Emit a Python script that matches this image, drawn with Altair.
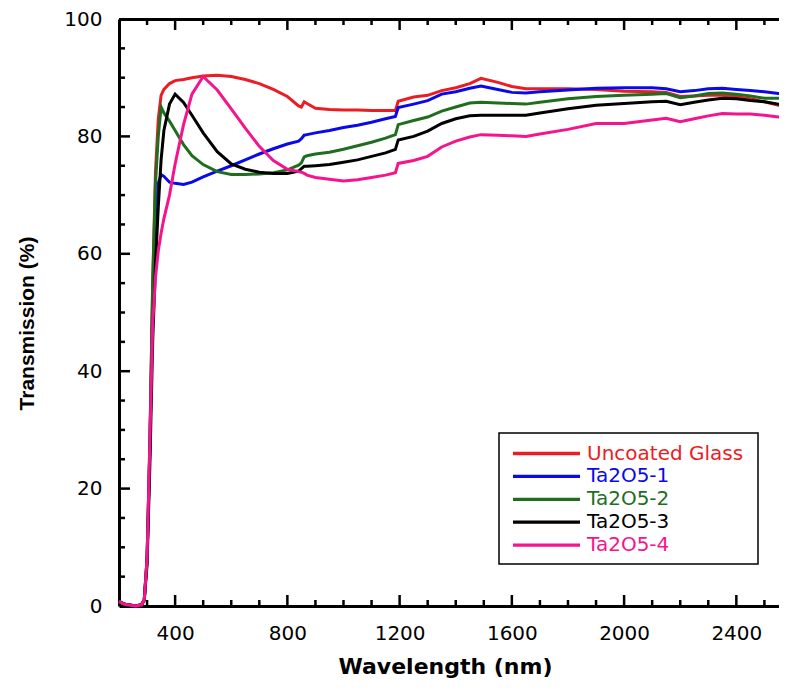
import altair as alt
import pandas as pd

# ---------------- data ----------------
wavelengths = [200, 220, 260, 280, 290, 300, 310, 320, 330, 340, 350, 360, 380, 400, 430, 460,
               500, 550, 600, 650, 700, 750, 800, 840, 850, 860, 870, 900, 950, 1000, 1050,
               1100, 1150, 1185, 1195, 1250, 1300, 1350, 1400, 1450, 1490, 1550, 1600, 1650,
               1700, 1800, 1900, 2000, 2100, 2150, 2200, 2250, 2300, 2350, 2400, 2450, 2500,
               2550, 2600]

uncoated = [0.8, 0.3, 0.0, 0.2, 1, 8, 27, 55, 74, 83, 87, 88, 89, 89.5, 89.7, 90,
            90.3, 90.4, 90.2, 89.7, 89, 88, 86.8, 85.2, 85.0, 85.9, 85.6, 84.8, 84.6, 84.5, 84.5,
            84.4, 84.4, 84.4, 86.0, 86.7, 87.0, 87.8, 88.3, 89.0, 89.9, 89.2, 88.5, 88.1,
            88.1, 88.1, 88.0, 87.7, 87.6, 87.5, 86.8, 86.9, 87.0, 87.0, 86.8, 86.4, 85.9,
            85.3, 85.0]

ta2o5_1 = [0.8, 0.3, 0.0, 0.2, 1, 8, 27, 52, 65, 72, 73.5, 73.2, 72.2, 72, 71.8, 72.2,
           73.1, 74.1, 75, 76, 77, 77.9, 78.7, 79.2, 79.6, 80.2, 80.3, 80.6, 81.0, 81.5, 81.9,
           82.4, 83.0, 83.4, 84.9, 85.5, 86.1, 87.2, 87.6, 88.2, 88.6, 88.0, 87.5, 87.4,
           87.6, 87.9, 88.2, 88.3, 88.3, 88.1, 87.6, 87.8, 88.1, 88.2, 88.0, 87.8, 87.6,
           87.3, 87.2]

ta2o5_2 = [0.8, 0.3, 0.0, 0.2, 1, 8, 28, 55, 72, 80, 85, 84, 82.6, 81, 78.6, 76.7,
           75.2, 74.0, 73.5, 73.5, 73.6, 73.8, 74.3, 75.1, 75.5, 76.5, 76.7, 77.0, 77.3, 77.8, 78.4,
           79.0, 79.7, 80.3, 82.0, 82.7, 83.3, 84.3, 85.0, 85.7, 85.8, 85.7, 85.6, 85.5,
           85.8, 86.4, 86.8, 87.0, 87.2, 87.3, 86.6, 86.9, 87.3, 87.4, 87.2, 86.9, 86.5,
           86.5, 86.3]

ta2o5_3 = [0.8, 0.3, 0.0, 0.2, 1, 7, 24, 45, 58, 68, 76, 81, 85.5, 87.2, 85.8, 83.6,
           80.6, 77.4, 75.3, 74.4, 73.9, 73.7, 73.7, 74.1, 74.5, 74.9, 74.9, 75.0, 75.2, 75.6, 76.0,
           76.6, 77.2, 77.8, 79.4, 80.0, 80.9, 82.2, 83.0, 83.5, 83.6, 83.6, 83.6, 83.6,
           84.0, 84.7, 85.3, 85.6, 85.9, 86.0, 85.4, 85.8, 86.2, 86.5, 86.4, 86.1, 85.9,
           85.5, 85.2]

ta2o5_4 = [0.8, 0.3, 0.0, 0.2, 1, 8, 28, 48, 56, 60.5, 63.5, 66, 70, 75.3, 82, 87.2,
           90.2, 87.9, 84.7, 81.4, 78.3, 75.9, 74.4, 74.0, 73.9, 73.7, 73.4, 73.0, 72.7, 72.4, 72.6,
           73.0, 73.4, 73.8, 75.4, 75.9, 76.6, 78.2, 79.2, 79.9, 80.3, 80.2, 80.1, 80.0,
           80.4, 81.2, 82.2, 82.2, 82.8, 83.1, 82.5, 83.0, 83.5, 83.9, 83.8, 83.8, 83.6,
           83.3, 83.0]

series_names = ["Uncoated Glass", "Ta2O5-1", "Ta2O5-2", "Ta2O5-3", "Ta2O5-4"]
series_values = [uncoated, ta2o5_1, ta2o5_2, ta2o5_3, ta2o5_4]
series_colors = ["#ec1c24", "#0a0ae8", "#1f6e1f", "#000000", "#f5148c"]

x_label_values = [400, 800, 1200, 1600, 2000, 2400]
x_minor_values = [300, 500, 600, 700, 900, 1000, 1100, 1300, 1400, 1500, 1700, 1800, 1900,
                  2100, 2200, 2300, 2500]
y_label_values = [0, 20, 40, 60, 80, 100]
y_major_ticks = [20, 40, 60, 80]
y_minor_ticks = [5, 10, 15, 25, 30, 35, 45, 50, 55, 65, 70, 75, 85, 90, 95]

rows = []
for name, vals in zip(series_names, series_values):
    for w, v in zip(wavelengths, vals):
        rows.append({"wavelength": w, "T": v, "series": name})
df = pd.DataFrame(rows)

# ---------------- layout ----------------
W = 660
H = 587
XMIN = 200
XMAX = 2552
MAJ = 11
MIN = 6
TW = 2.5

x_scale = alt.Scale(domain=[XMIN, XMAX], nice=False, zero=False)
y_scale = alt.Scale(domain=[0, 100], nice=False, zero=False)

x_axis = alt.Axis(orient="bottom", values=x_label_values, format="d",
                  title="Wavelength (nm)",
                  ticks=False, grid=False, domainWidth=3, domainColor="#000000",
                  labelFont="DejaVu Sans", labelFontSize=20, labelColor="#000000",
                  labelPadding=17, titleFont="DejaVu Sans", titleFontSize=22,
                  titleFontWeight="bold", titleColor="#000000", titleX=326, titleY=67,
                  titleBaseline="alphabetic", titleAlign="center")
y_axis = alt.Axis(orient="left", values=y_label_values, format="d",
                  title="Transmission (%)",
                  ticks=False, grid=False, domainWidth=3, domainColor="#000000",
                  labelFont="DejaVu Sans", labelFontSize=20, labelColor="#000000",
                  labelPadding=17, titleFont="Liberation Sans", titleFontSize=21,
                  titleFontWeight="bold", titleColor="#000000", titleAngle=270,
                  titleX=-92, titleY=304, titleAlign="center", titleBaseline="middle")

main = alt.Chart(df).mark_line(strokeWidth=3).encode(
    x=alt.X("wavelength:Q", scale=x_scale, axis=x_axis, title="Wavelength (nm)"),
    y=alt.Y("T:Q", scale=y_scale, axis=y_axis, title="Transmission (%)"),
    color=alt.Color("series:N", sort=series_names,
                    scale=alt.Scale(domain=series_names, range=series_colors),
                    legend=None),
)

layers = [main]

# ---------------- legend box (drawn as marks) ----------------
LX0, LX1, LY0, LY1 = 380, 639, 414, 545
ROW0, ROWSTEP = 434.5, 22.9
SYM0, SYM1, TXT = 394, 461, 468

layers.append(
    alt.Chart(pd.DataFrame({"series": ["legend"]})).mark_rect(
        fill="white", stroke="#000000", strokeWidth=1.5
    ).encode(x=alt.value(LX0), x2=alt.value(LX1), y=alt.value(LY0), y2=alt.value(LY1))
)
for i, (name, col) in enumerate(zip(series_names, series_colors)):
    one = pd.DataFrame({"series": [name]})
    yc = ROW0 + i * ROWSTEP
    layers.append(
        alt.Chart(one).mark_rule(color=col, strokeWidth=3.3).encode(
            x=alt.value(SYM0), x2=alt.value(SYM1), y=alt.value(yc)
        )
    )
    layers.append(
        alt.Chart(one).mark_text(
            align="left", baseline="middle", font="DejaVu Sans", fontSize=20, color=col
        ).encode(x=alt.value(TXT), y=alt.value(yc), text="series:N")
    )


# ---------------- inward axis ticks and top frame (decoration) ----------------
def px(v):
    # same linear mapping as the x scale (domain -> 0..W)
    return (v - XMIN) / (XMAX - XMIN) * W


def py(v):
    # same linear mapping as the y scale (domain -> H..0)
    return H - v / 100.0 * H


def vtick(tag, x, y0, y1):
    d = pd.DataFrame({"series": [tag]})
    return alt.Chart(d).mark_rule(color="#000000", strokeWidth=TW).encode(
        x=alt.value(x), y=alt.value(y0), y2=alt.value(y1)
    )


def htick(tag, y, x0, x1, width=TW):
    d = pd.DataFrame({"series": [tag]})
    return alt.Chart(d).mark_rule(color="#000000", strokeWidth=width).encode(
        x=alt.value(x0), x2=alt.value(x1), y=alt.value(y)
    )


for v in x_label_values:
    layers.append(vtick(f"xb{v}", px(v), H - MAJ, H))
    layers.append(vtick(f"xt{v}", px(v), 1, MAJ))
for v in x_minor_values:
    layers.append(vtick(f"xb{v}", px(v), H - MIN, H))
    layers.append(vtick(f"xt{v}", px(v), 1, MIN))
for v in y_major_ticks:
    layers.append(htick(f"yl{v}", py(v), 1, MAJ))
for v in y_minor_ticks:
    layers.append(htick(f"yl{v}", py(v), 1, MIN))
layers.append(htick("topframe", 0.5, 0, W, width=3))

chart = alt.layer(*layers).properties(
    width=W, height=H,
    autosize=alt.AutoSizeParams(type="none"),
    padding={"left": 111, "top": 11, "right": 0, "bottom": 73},
).configure_view(stroke=None)

chart.save("out.html", embed_options={"renderer": "svg", "actions": False})
